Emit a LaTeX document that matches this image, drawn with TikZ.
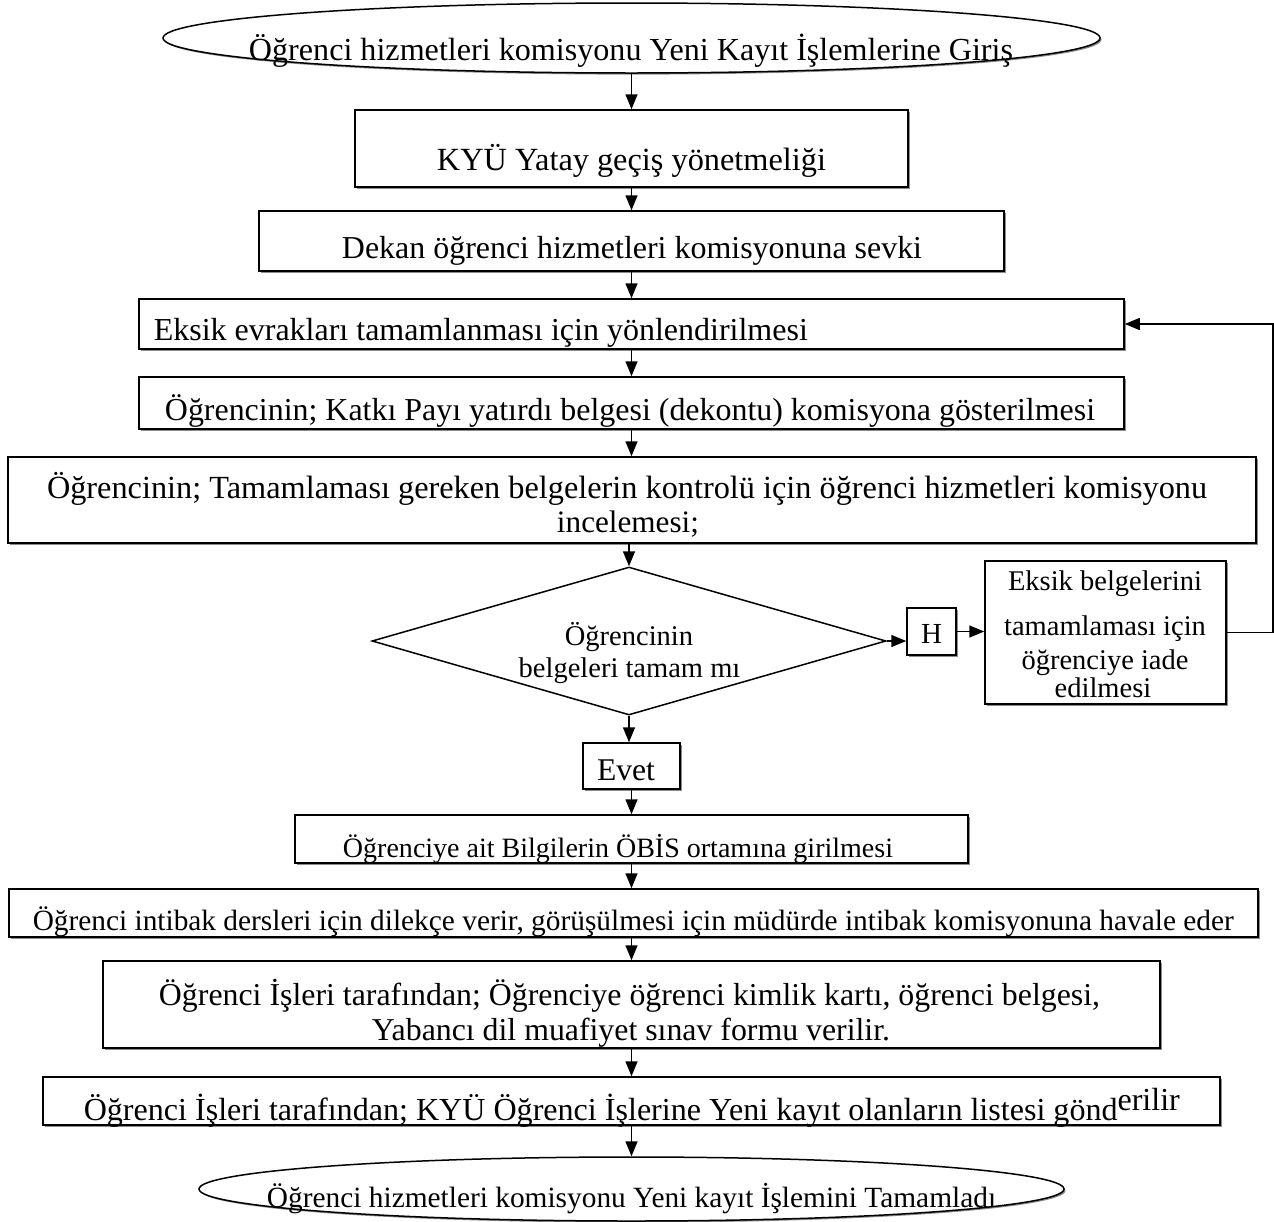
\documentclass[tikz,border=0pt]{standalone}
\usepackage{fontspec}
\setmainfont{Liberation Serif}
\usetikzlibrary{shapes.geometric,arrows.meta,shadows}
\newcommand{\fw}[2]{\resizebox{#1pt}{!}{#2}}
\tikzset{
  every picture/.style={line width=1.5pt},
  shd/.style={general shadow={shadow xshift=1.6pt, shadow yshift=-1.6pt, fill=black!45}},
  boxn/.style={draw, rectangle, inner sep=0pt, fill=white, shd},
  ell/.style={draw, ellipse, inner sep=0pt, fill=white, shd},
  dia/.style={draw, diamond, inner sep=0pt},
  txt/.style={anchor=base, inner sep=0pt, font=\fontsize{20}{24}\selectfont},
  txtw/.style={anchor=base west, inner sep=0pt, font=\fontsize{20}{24}\selectfont},
  rbt/.style={anchor=base, inner sep=0pt, font=\fontsize{28.5}{32}\selectfont},
  arr/.style={-{Triangle[length=15pt,width=12pt]}, line width=1.5pt},
}
\begin{document}
\begin{tikzpicture}[x=1pt,y=-1pt]
\useasboundingbox (0,0) rectangle (1274,1221);
% shapes
\node[ell, minimum width=937pt, minimum height=70pt] (start) at (631.5,38) {};
\node[boxn, minimum width=553pt, minimum height=77pt] (b1) at (631.5,148.5) {};
\node[boxn, minimum width=745pt, minimum height=60pt] (b2) at (631.5,241) {};
\node[boxn, minimum width=985pt, minimum height=50pt] (b3) at (631.5,324) {};
\node[boxn, minimum width=985pt, minimum height=52pt] (b4) at (631.5,403) {};
\node[boxn, minimum width=1248pt, minimum height=86pt] (b5) at (632,500) {};
\node[dia, minimum width=514pt, minimum height=148pt, aspect=3.47] (d) at (629,641) {};
\node[boxn, minimum width=49pt, minimum height=47pt] (h) at (931.5,631.5) {};
\node[boxn, minimum width=241pt, minimum height=143pt] (rb) at (1105.5,632.5) {};
\node[boxn, minimum width=97pt, minimum height=46pt] (ev) at (631.5,766) {};
\node[boxn, minimum width=673pt, minimum height=48pt] (ob) at (631.5,839) {};
\node[boxn, minimum width=1249pt, minimum height=48pt] (it) at (633.5,913) {};
\node[boxn, minimum width=1057pt, minimum height=87pt] (ki) at (631.5,1004.5) {};
\node[boxn, minimum width=1177pt, minimum height=48pt] (la) at (631.5,1101) {};
\node[ell, minimum width=865pt, minimum height=64pt] (end) at (631.5,1189) {};
\coordinate (fb) at (1273,632.5);
% texts
\node[txt] (t0) at (631,60) {\fw{764}{Öğrenci hizmetleri komisyonu Yeni Kayıt İşlemlerine Giriş}};
\node[txt] (t1) at (631.5,170) {\fw{389}{KYÜ Yatay geçiş yönetmeliği}};
\node[txt] (t2) at (632,258) {\fw{580}{Dekan öğrenci hizmetleri komisyonuna sevki}};
\node[txtw] (t3) at (153,340) {\fw{654}{Eksik evrakları tamamlanması için yönlendirilmesi}};
\node[txt] (t4) at (630,420) {\fw{930}{Öğrencinin; Katkı Payı yatırdı belgesi (dekontu) komisyona gösterilmesi}};
\node[txt] (t5a) at (627,498) {\fw{1160}{Öğrencinin; Tamamlaması gereken belgelerin kontrolü için öğrenci hizmetleri komisyonu}};
\node[txt] (t5b) at (628,532) {\fw{142}{incelemesi;}};
\node[rbt] (tda) at (629,645) {Öğrencinin};
\node[rbt] (tdb) at (629.5,677) {belgeleri tamam mı};
\node[txt] (th) at (931.5,643) {\fw{21}{H}};
\node[rbt] (tra) at (1105,590) {Eksik belgelerini};
\node[rbt] (trb) at (1105,635) {tamamlaması için};
\node[rbt] (trc) at (1105,669) {öğrenciye iade};
\node[rbt] (trd) at (1103,697) {edilmesi};
\node[txt] (tev) at (626,780) {\fw{58}{Evet}};
\node[txt] (tob) at (618,857) {\fw{550}{Öğrenciye ait Bilgilerin ÖBİS ortamına girilmesi}};
\node[txtw] (tit) at (32,930) {\fw{1201}{Öğrenci intibak dersleri için dilekçe verir, görüşülmesi için müdürde intibak komisyonuna havale eder}};
\node[txt] (tka) at (629.5,1005) {\fw{941}{Öğrenci İşleri tarafından; Öğrenciye öğrenci kimlik kartı, öğrenci belgesi,}};
\node[txt] (tkb) at (631,1040) {\fw{518}{Yabancı dil muafiyet sınav formu verilir.}};
\node[txtw] (tla) at (83,1120) {\fw{1096}{Öğrenci İşleri tarafından; KYÜ Öğrenci İşlerine Yeni kayıt olanların listesi gönd\raisebox{6pt}{erilir}}};
\node[txt] (tend) at (631.5,1207) {\fw{729}{Öğrenci hizmetleri komisyonu Yeni kayıt İşlemini Tamamladı}};
% connectors
\draw[arr] (start.south) -- (start.south |- b1.north);
\draw[arr] (b1.south) -- (b1.south |- b2.north);
\draw[arr] (b2.south) -- (b2.south |- b3.north);
\draw[arr] (b3.south) -- (b3.south |- b4.north);
\draw[arr] (b4.south) -- (b4.south |- b5.north);
\draw[arr] (b5.south -| d.north) -- (d.north);
\draw[arr] (d.south) -- (d.south |- ev.north);
\draw[arr] (ev.south) -- (ev.south |- ob.north);
\draw[arr] (ob.south) -- (ob.south |- it.north);
\draw[arr] (it.south -| ob.south) -- (ob.south |- ki.north);
\draw[arr] (ki.south) -- (ki.south |- la.north);
\draw[arr] (la.south) -- (la.south |- end.north);
\draw[arr] (d.east) -- (d.east -| h.west);
\draw[arr] (h.east) -- (h.east -| rb.west);
\draw[arr] (rb.east) -- (fb) |- (b3.east);
\end{tikzpicture}
\end{document}
